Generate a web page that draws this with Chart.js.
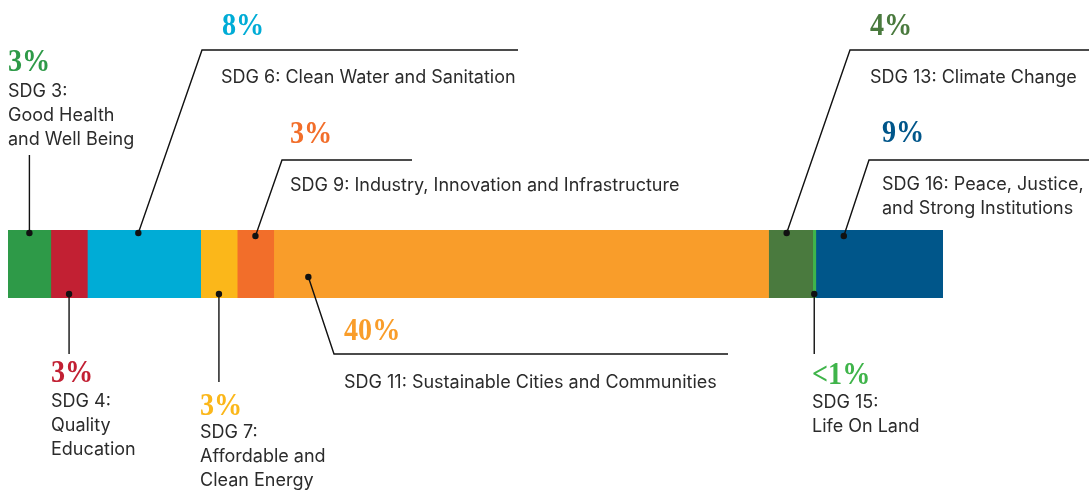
<!DOCTYPE html>
<html>
<head>
<meta charset="utf-8">
<script src="https://cdn.jsdelivr.net/npm/chart.js@4/dist/chart.umd.min.js"></script>
<style>
  html, body { margin: 0; padding: 0; background: #fff; }
  #wrap { width: 1089px; height: 491px; position: relative; }
</style>
</head>
<body>
<div id="wrap"><canvas id="myChart"></canvas></div>
<script>
// data (bar widths), plus the printed shares
const goals = ["SDG 3", "SDG 4", "SDG 6", "SDG 7", "SDG 9", "SDG 11", "SDG 13", "SDG 15", "SDG 16"];
const shares = [3.4, 2.9, 9.0, 2.9, 2.9, 39.3, 3.5, 0.25, 10.1];
const shareLabels = ["3%", "3%", "8%", "3%", "3%", "40%", "4%", "<1%", "9%"];
const goalNames = [
  ["SDG 3:", "Good Health", "and Well Being"],
  ["SDG 4:", "Quality", "Education"],
  ["SDG 6: Clean Water and Sanitation"],
  ["SDG 7:", "Affordable and", "Clean Energy"],
  ["SDG 9: Industry, Innovation and Infrastructure"],
  ["SDG 11: Sustainable Cities and Communities"],
  ["SDG 13: Climate Change"],
  ["SDG 15:", "Life On Land"],
  ["SDG 16: Peace, Justice,", "and Strong Institutions"]
];
const colors = ["#2e9a48", "#c22033", "#00acd6", "#fbb71a", "#f26e2a", "#f99d2a", "#4a7a3e", "#3fb44a", "#00568a"];

// callout layout (pixels): where the dot sits in the segment, the elbow, the text
const callouts = [
  { frac: 0.5,  side: "top", dy: 3,  elbow: null,       endX: null, lineTo: 155, pct: [8, 71],    text: [8, 97] },
  { frac: 0.5,  side: "bot", dy: 4,  elbow: null,       endX: null, lineTo: 354, pct: [51, 382],  text: [51, 407] },
  { frac: 0.45, side: "top", dy: 3,  elbow: [202, 50],  endX: 518,  pct: [222, 35],  text: [221, 83] },
  { frac: 0.5,  side: "bot", dy: 4,  elbow: null,       endX: null, lineTo: 382, pct: [200, 415], text: [200, 438] },
  { frac: 0.5,  side: "top", dy: 6,  elbow: [282, 160], endX: 412,  pct: [290, 143], text: [290, 191] },
  { frac: 0.07, side: "top", dy: 47, elbow: [334, 354], endX: 728,  pct: [344, 340], text: [344, 388] },
  { frac: 0.41, side: "top", dy: 3,  elbow: [850, 50],  endX: 1089, pct: [870, 35],  text: [870, 83] },
  { frac: 0.5,  side: "bot", dy: 4,  elbow: null,       endX: null, lineTo: 354, pct: [812, 384], text: [812, 408] },
  { frac: 0.22, side: "top", dy: 6,  elbow: [869, 160], endX: 1089, pct: [882, 142], text: [882, 190] }
];

const calloutPlugin = {
  id: "callouts",
  afterDatasetsDraw(chart) {
    const ctx = chart.ctx;
    ctx.save();
    callouts.forEach((c, i) => {
      const bar = chart.getDatasetMeta(i).data[0];
      const left = Math.min(bar.base, bar.x), right = Math.max(bar.base, bar.x);
      const top = bar.y - bar.height / 2, bottom = bar.y + bar.height / 2;
      const dx = left + c.frac * (right - left);
      const dyy = c.side === "top" ? top + c.dy : bottom - c.dy;

      ctx.strokeStyle = "#111";
      ctx.lineWidth = 1.4;
      ctx.beginPath();
      ctx.moveTo(dx, dyy);
      if (c.elbow) {
        ctx.lineTo(c.elbow[0], c.elbow[1]);
        ctx.lineTo(c.endX, c.elbow[1]);
      } else {
        ctx.lineTo(dx, c.lineTo);
      }
      ctx.stroke();
      ctx.fillStyle = "#111";
      ctx.beginPath();
      ctx.arc(dx, dyy, 3.2, 0, Math.PI * 2);
      ctx.fill();

      // percentage
      ctx.fillStyle = colors[i];
      ctx.font = "bold 32px 'Liberation Serif'";
      ctx.textBaseline = "alphabetic";
      ctx.textAlign = "left";
      ctx.save();
      ctx.translate(c.pct[0], c.pct[1]);
      ctx.scale(0.88, 1);
      ctx.fillText(shareLabels[i], 0, 0);
      ctx.restore();

      // name
      ctx.fillStyle = "#2b2b2b";
      ctx.font = "18px Inter";
      goalNames[i].forEach((line, k) => {
        ctx.fillText(line, c.text[0], c.text[1] + k * 24);
      });
    });
    ctx.restore();
  }
};

const ctx = document.getElementById("myChart");
new Chart(ctx, {
  type: "bar",
  data: {
    labels: [""],
    datasets: goals.map((g, i) => ({
      label: g,
      data: [shares[i]],
      backgroundColor: colors[i],
      borderWidth: 0,
      barPercentage: 1,
      categoryPercentage: 1
    }))
  },
  options: {
    indexAxis: "y",
    responsive: true,
    maintainAspectRatio: false,
    animation: false,
    layout: { padding: { left: 8, right: 146, top: 230, bottom: 193 } },
    plugins: { legend: { display: false }, tooltip: { enabled: false } },
    scales: {
      x: { stacked: true, display: false, min: 0, max: shares.reduce((a, b) => a + b, 0) },
      y: { stacked: true, display: false }
    }
  },
  plugins: [calloutPlugin]
});
</script>
</body>
</html>
